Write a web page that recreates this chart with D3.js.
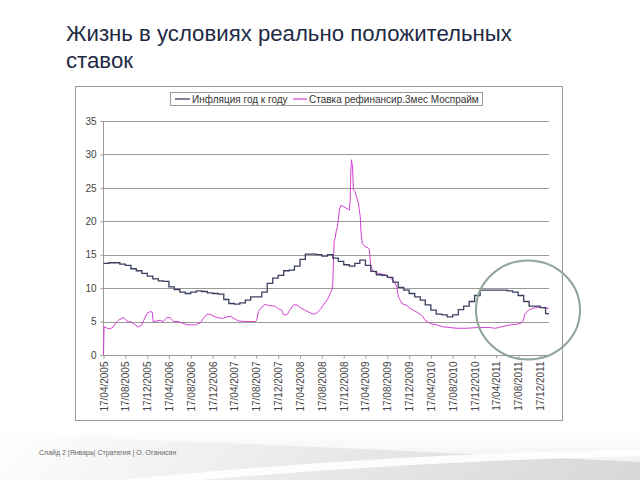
<!DOCTYPE html>
<html><head><meta charset="utf-8">
<script src="https://cdn.jsdelivr.net/npm/d3@7"></script>
<style>
html,body{margin:0;padding:0;background:#fff;}
svg{display:block;font-family:"Liberation Sans",Arial,sans-serif;}
</style></head>
<body>
<svg id="c" width="640" height="480"></svg>
<script>
// ---------- DATA ----------
const titleLines = ["Жизнь в условиях реально положительных", "ставок"];
const footerText = "Слайд 2 |Январь| Стратегия  |  О. Оганисян";
const seriesNames = ["Инфляция год к году", "Ставка рефинансир.3мес Моспрайм"];
const xTickLabels = ["17/04/2005","17/08/2005","17/12/2005","17/04/2006","17/08/2006","17/12/2006",
  "17/04/2007","17/08/2007","17/12/2007","17/04/2008","17/08/2008","17/12/2008",
  "17/04/2009","17/08/2009","17/12/2009","17/04/2010","17/08/2010","17/12/2010",
  "17/04/2011","17/08/2011","17/12/2011"];
const yTicks = [0,5,10,15,20,25,30,35];
const xDomain = ["2005-04-17","2012-02-05"];

// Inflation y/y, monthly steps starting 17/04/2005
const inflationStart = "2005-04-17";
const inflationValues = [13.7,13.8,13.8,13.6,13.4,12.9,12.6,12.2,11.8,11.4,11.1,11.0,10.2,9.8,9.4,9.2,9.4,9.6,9.5,9.3,
  9.2,9.1,8.3,7.7,7.6,7.8,8.2,8.7,8.7,9.4,10.7,11.5,11.9,12.6,12.7,13.3,14.3,15.1,15.1,15.0,
  14.8,15.0,14.5,14.0,13.5,13.3,13.7,14.2,13.4,12.5,12.0,11.9,11.6,10.9,10.1,9.7,9.2,8.7,8.2,7.5,
  6.7,6.1,6.0,5.7,6.0,6.8,7.3,8.0,8.9,9.7,9.7,9.7,9.7,9.7,9.6,9.4,8.9,8.0,7.3,7.3,7.1,6.2];

// MosPrime 3M
const mosprimeDates = ["2005-04-17","2005-04-20","2005-05-08","2005-05-24","2005-06-12","2005-06-21","2005-07-10","2005-07-29",
  "2005-08-10","2005-08-25","2005-09-03","2005-09-22","2005-10-11","2005-10-29","2005-11-17","2005-11-26","2005-12-15",
  "2006-01-02","2006-01-14","2006-01-19","2006-02-09","2006-02-27","2006-03-16","2006-04-06","2006-04-24","2006-05-12",
  "2006-06-09","2006-07-17","2006-08-14","2006-09-11","2006-10-08","2006-10-27","2006-11-15","2006-12-03","2006-12-31",
  "2007-01-28","2007-02-15","2007-03-06","2007-03-25","2007-04-12","2007-05-10","2007-06-16","2007-08-11","2007-08-20",
  "2007-08-29","2007-09-08","2007-10-06","2007-10-24","2007-12-01","2007-12-19","2008-01-07","2008-01-16","2008-02-04",
  "2008-02-22","2008-03-12","2008-03-31","2008-04-18","2008-05-16","2008-06-13","2008-07-01","2008-07-20","2008-08-08",
  "2008-08-26","2008-09-14","2008-09-23","2008-10-02","2008-10-12","2008-10-17","2008-10-21","2008-10-25","2008-10-30",
  "2008-11-05","2008-11-12","2008-11-23","2008-12-01","2008-12-15","2009-01-03","2009-01-18","2009-01-22","2009-01-26",
  "2009-01-29","2009-02-04","2009-02-09","2009-02-19","2009-02-28","2009-03-09","2009-03-19","2009-03-24","2009-03-30",
  "2009-04-15","2009-05-04","2009-05-09","2009-05-17","2009-06-01","2009-06-29","2009-08-05","2009-08-23","2009-09-20",
  "2009-10-09","2009-10-18","2009-11-06","2009-12-04","2009-12-22","2010-01-10","2010-01-29","2010-02-16","2010-02-27",
  "2010-03-16","2010-04-13","2010-05-20","2010-06-26","2010-08-03","2010-09-09","2010-11-04","2010-12-29","2011-03-14",
  "2011-04-11","2011-04-29","2011-05-27","2011-07-03","2011-08-10","2011-09-06","2011-09-15","2011-09-25","2011-10-13",
  "2011-11-10","2011-12-17","2012-01-14","2012-02-03"];
const mosprimeValues = [0,4.2,4.0,3.9,4.2,4.7,5.2,5.5,
  5.6,5.1,5.0,4.9,4.5,4.2,4.5,5.1,6.2,
  6.5,6.4,5.0,5.1,5.2,5.0,5.6,5.6,5.0,
  5.0,4.6,4.5,4.5,4.8,5.5,6.1,6.1,5.7,
  5.5,5.5,5.7,5.8,5.5,5.1,5.0,5.0,5.2,
  6.5,6.9,7.6,7.4,7.3,6.9,6.7,6.0,6.0,
  6.8,7.5,7.5,7.1,6.7,6.3,6.1,6.3,6.8,
  7.5,8.2,8.6,9.2,9.7,10.7,14.2,17.2,17.4,
  18.5,19.2,21.7,22.4,22.2,21.9,21.7,23.2,27.7,
  29.2,28.2,24.7,24.4,23.5,22.7,20.7,18.2,16.7,
  16.2,16.0,15.8,13.2,12.5,12.2,12.0,11.7,11.2,
  10.2,8.7,7.7,7.4,7.0,6.7,6.4,6.1,5.9,
  5.2,4.7,4.5,4.2,4.1,4.0,4.0,4.1,4.1,
  4.0,4.1,4.3,4.5,4.6,4.8,5.2,6.2,6.7,
  7.0,7.2,7.0,7.0];

// ---------- DRAW ----------
const svg = d3.select("#c");
const parse = d3.timeParse("%Y-%m-%d");
const parseLbl = d3.timeParse("%d/%m/%Y");

// background swoosh
const defs = svg.append("defs");
const g1 = defs.append("linearGradient").attr("id","sw1").attr("x1","0").attr("x2","1").attr("y1","0").attr("y2","0");
g1.append("stop").attr("offset","0").attr("stop-color","#ffffff");
g1.append("stop").attr("offset","0.5").attr("stop-color","#e6e6e6");
g1.append("stop").attr("offset","1").attr("stop-color","#d2d2d2");
const g2 = defs.append("linearGradient").attr("id","sw2").attr("x1","0").attr("x2","0").attr("y1","0").attr("y2","1");
g2.append("stop").attr("offset","0").attr("stop-color","#ffffff");
g2.append("stop").attr("offset","1").attr("stop-color","#ececec");
svg.append("rect").attr("x",0).attr("y",428).attr("width",640).attr("height",52).attr("fill","url(#sw2)");
svg.append("path").attr("d","M0,436 C200,440 420,452 640,462 L640,480 L0,480 Z").attr("fill","url(#sw1)").attr("opacity",0.8);
svg.append("path").attr("d","M120,480 C300,462 470,452 640,450 L640,456 C470,460 320,470 200,480 Z").attr("fill","#ffffff").attr("opacity",0.9);

// title
svg.append("g").selectAll("text").data(titleLines).join("text")
  .attr("x",66).attr("y",(d,i)=>41+i*26.5)
  .attr("font-size",22.2).attr("fill","#1e2a45").text(d=>d);

// chart frame
svg.append("rect").attr("x",75.5).attr("y",86.5).attr("width",487).attr("height",334)
  .attr("fill","#fff").attr("stroke","#9a9a9a").attr("stroke-width",1);

const x = d3.scaleTime().domain(xDomain.map(parse)).range([103.5,549]);
const y = d3.scaleLinear().domain([0,35]).range([355,121]);

// gridlines
svg.append("g").selectAll("line").data(yTicks.filter(v=>v>0)).join("line")
  .attr("x1",103.5).attr("x2",549).attr("y1",d=>Math.round(y(d))+0.5).attr("y2",d=>Math.round(y(d))+0.5)
  .attr("stroke","#9a9a9a").attr("stroke-width",1);

// y axis
const yAxis = d3.axisLeft(y).tickValues(yTicks).tickSize(3).tickPadding(4);
const gy = svg.append("g").attr("transform","translate(103.5,0)").call(yAxis);
gy.select(".domain").attr("stroke","#9a9a9a").attr("d","M0,121V355");
gy.selectAll(".tick line").attr("stroke","#9a9a9a");
gy.selectAll("text").attr("font-size",10).attr("fill","#444").attr("font-family","Liberation Sans, Arial, sans-serif");

// x axis
const xAxis = d3.axisBottom(x).tickValues(xTickLabels.map(parseLbl)).tickSize(3).tickFormat(d3.timeFormat("%d/%m/%Y"));
const gx = svg.append("g").attr("transform","translate(0,355.5)").call(xAxis);
gx.select(".domain").attr("stroke","#9a9a9a").attr("d","M103.5,0H549");
gx.selectAll(".tick line").attr("stroke","#9a9a9a");
gx.selectAll("text").attr("font-size",10).attr("fill","#444").attr("font-family","Liberation Sans, Arial, sans-serif")
  .attr("transform","rotate(-90)").attr("text-anchor","end").attr("x",-6).attr("y",0).attr("dy","0.35em");

// lines
const infl = inflationValues.map((v,i)=>({d:d3.timeMonth.offset(parse(inflationStart),i),v}));
infl.push({d:parse(xDomain[1]),v:inflationValues[inflationValues.length-1]});
const mos = mosprimeDates.map((d,i)=>({d:parse(d),v:mosprimeValues[i]}));

svg.append("path").datum(mos).attr("fill","none").attr("stroke","#d43fd4").attr("stroke-width",1)
  .attr("d",d3.line().x(p=>x(p.d)).y(p=>y(p.v)));
svg.append("path").datum(infl).attr("fill","none").attr("stroke","#3b4060").attr("stroke-width",1.3)
  .attr("d",d3.line().curve(d3.curveStepAfter).x(p=>x(p.d)).y(p=>y(p.v)));

// legend
const lg = svg.append("g");
lg.append("rect").attr("x",170.5).attr("y",92.5).attr("width",312).attr("height",13)
  .attr("fill","#fff").attr("stroke","#9a9a9a");
lg.append("line").attr("x1",175).attr("x2",190).attr("y1",99).attr("y2",99).attr("stroke","#3b4060").attr("stroke-width",1.3);
lg.append("text").attr("x",192).attr("y",102.5).attr("font-size",10).attr("fill","#333").text(seriesNames[0]);
lg.append("line").attr("x1",293).attr("x2",307).attr("y1",99).attr("y2",99).attr("stroke","#d43fd4").attr("stroke-width",1.2);
lg.append("text").attr("x",309).attr("y",102.5).attr("font-size",10).attr("fill","#333").text(seriesNames[1]);

// highlight circle
svg.append("ellipse").attr("cx",528).attr("cy",310).attr("rx",52).attr("ry",49.5)
  .attr("fill","none").attr("stroke","#8ea398").attr("stroke-width",2);

// footer
svg.append("text").attr("x",39).attr("y",455).attr("font-size",7).attr("fill","#666").text(footerText);
</script>
</body></html>
